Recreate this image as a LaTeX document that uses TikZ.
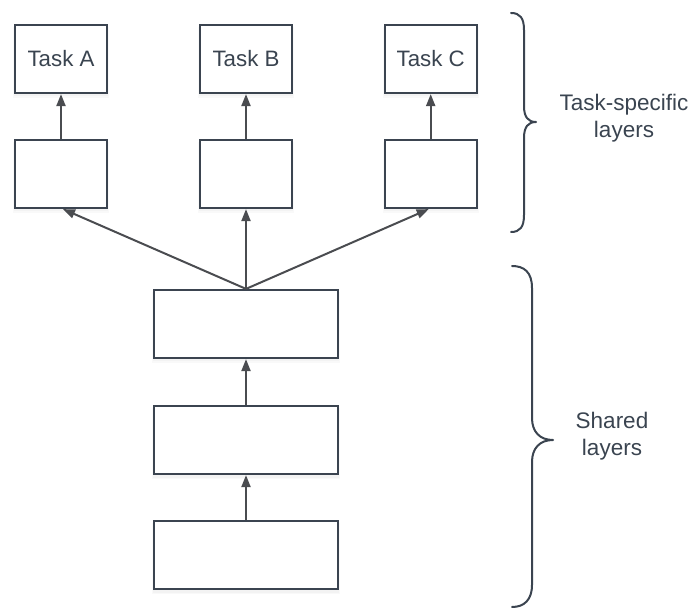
\documentclass[tikz,border=0pt]{standalone}
\usepackage{fontspec}
\setmainfont{Liberation Sans}
\usetikzlibrary{arrows.meta}
\definecolor{boxline}{HTML}{3B4450}
\definecolor{arrowline}{HTML}{4A4C50}
\definecolor{labeltext}{HTML}{3A4450}
\tikzset{
  layerbox/.style={draw=boxline, line width=2.2pt, fill=white, minimum width=92pt,
    minimum height=68pt, inner sep=0pt, font=\fontsize{22.3}{26}\selectfont, text=labeltext},
  widebox/.style={layerbox, minimum width=184pt},
  flow/.style={draw=arrowline, line width=2pt, -{Triangle[length=12pt,width=9pt]}},
  bracepath/.style={draw=boxline, line width=2pt, line cap=round, line join=round},
  sidelabel/.style={align=center, text=labeltext, font=\fontsize{22.5}{26.5}\selectfont},
  boxshadow/.style={fill=black, fill opacity=0.025, draw=none}
}
\begin{document}
\begin{tikzpicture}[x=1pt, y=-1pt]
  \useasboundingbox (0,0) rectangle (691,609);

  % faint soft shadows under the boxes
  \foreach \cx/\cy/\w in {61/59/92, 246/59/92, 430.7/59/92, 61/174/92, 246/174/92, 430.7/174/92,
                          246/324/184, 246/440/184, 246/555/184}{
    \fill[boxshadow] (\cx-\w/2-2,\cy-32) rectangle (\cx+\w/2+2,\cy+39);
    \fill[boxshadow] (\cx-\w/2-1,\cy-32) rectangle (\cx+\w/2+1,\cy+37.5);
  }

  % task heads
  \node[layerbox] (taskA) at (61,59) {Task A};
  \node[layerbox] (taskB) at (246,59) {Task B};
  \node[layerbox] (taskC) at (430.7,59) {Task C};

  % task-specific layers
  \node[layerbox] (specA) at (61,174) {};
  \node[layerbox] (specB) at (246,174) {};
  \node[layerbox] (specC) at (430.7,174) {};

  % shared layers
  \node[widebox] (shared3) at (246,324) {};
  \node[widebox] (shared2) at (246,440) {};
  \node[widebox] (shared1) at (246,555) {};

  % connectors
  \draw[flow] (specA) -- (taskA);
  \draw[flow] (specB) -- (taskB);
  \draw[flow] (specC) -- (taskC);
  \draw[flow] (shared3.north) -- ([xshift=2pt]specA.south);
  \draw[flow] (shared3.north) -- (specB.south);
  \draw[flow] (shared3.north) -- ([xshift=-2pt]specC.south);
  \draw[flow] (shared2) -- (shared3);
  \draw[flow] (shared1) -- (shared2);

  % braces
  \draw[bracepath] (511,13) .. controls (520,13) and (524,18) .. (524,30) -- (524,106)
    .. controls (524,117) and (528,122) .. (536,122)
    .. controls (528,122) and (524,127) .. (524,138) -- (524,215)
    .. controls (524,227) and (520,232) .. (511,232);
  \draw[bracepath] (512,266) .. controls (524,266) and (532,272) .. (532,288) -- (532,418)
    .. controls (532,432) and (540,440) .. (553,440)
    .. controls (540,440) and (532,448) .. (532,462) -- (532,585)
    .. controls (532,600) and (524,607) .. (512,607);

  % brace labels
  \node[sidelabel] (specLabel) at (624,118) {Task-specific\\layers};
  \node[sidelabel] (sharedLabel) at (612,436) {Shared\\layers};
\end{tikzpicture}
\end{document}
